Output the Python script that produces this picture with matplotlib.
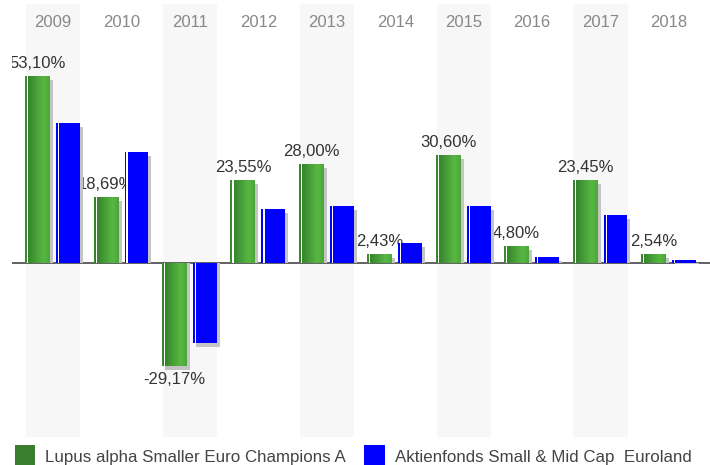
import matplotlib
matplotlib.use("Agg")
import matplotlib.pyplot as plt
import matplotlib.transforms as mtransforms
import numpy as np
from matplotlib.patches import Rectangle
from matplotlib.colors import to_rgb

plt.rcParams['font.family'] = ['Liberation Sans', 'DejaVu Sans']

years = ['2009', '2010', '2011', '2012', '2013', '2014', '2015', '2016', '2017', '2018']
fund = [53.10, 18.69, -29.17, 23.55, 28.00, 2.43, 30.60, 4.80, 23.45, 2.54]
peer = [39.8, 31.5, -22.6, 15.3, 16.2, 5.7, 16.2, 1.7, 13.6, 0.9]
fund_name = 'Lupus alpha Smaller Euro Champions A'
peer_name = 'Aktienfonds Small & Mid Cap  Euroland'

W, H = 710, 465
fig = plt.figure(figsize=(W / 100, H / 100), dpi=100)
ax = fig.add_axes([12 / W, (H - 437) / H, (710 - 12) / W, (437 - 4) / H])
ax.set_xlim(-0.6, len(years) - 0.4)
ax.axis('off')

px_x = 1 / 68.5      # one pixel in x data units
px_y = 1 / 3.52      # one pixel in y data units

# grey bands behind every other year
for i in range(0, len(years), 2):
    ax.axvspan(i - 0.395, i + 0.395, color='#f7f7f7', zorder=0, lw=0)

ax.axhline(0, color='#555555', lw=1.3, zorder=1)

# gradient for the green bars
dark = np.array(to_rgb('#2f7a27'))
light = np.array(to_rgb('#58b843'))
edge = np.array(to_rgb('#3a8a2e'))
t = np.linspace(0, 1, 40)
prof = np.where(t < 0.75, t / 0.75, 1 - (t - 0.75) / 0.25 * 0.3)
grad = dark[None, :] * (1 - prof[:, None]) + light[None, :] * prof[:, None]
grad = grad[None, :, :]

gw, bw = 0.365, 0.35
go, bo = -0.226, 0.219
shadow = '#c4c4c4'

up = mtransforms.offset_copy(ax.transData, fig=fig, x=0, y=8, units='dots')
down = mtransforms.offset_copy(ax.transData, fig=fig, x=0, y=-6, units='dots')

for i, (f, p) in enumerate(zip(fund, peer)):
    # green bar
    x0 = i + go - gw / 2
    ax.add_patch(Rectangle((x0 + 3 * px_x, 0), gw, f - 4 * px_y, color=shadow, lw=0, zorder=2))
    ax.imshow(grad, extent=[x0, x0 + gw, 0, f], aspect='auto', zorder=3, interpolation='bilinear')
    ax.add_patch(Rectangle((x0, 0), 1.5 * px_x, f, color=edge, lw=0, zorder=3.1))
    ax.add_patch(Rectangle((x0 + 2 * px_x, 0), 1.2 * px_x, f, color='white', lw=0, zorder=3.2))

    # value label
    label = f'{f:.2f}%'.replace('.', ',')
    if f >= 0:
        ax.text(i + go, f, label, transform=up, ha='center', va='baseline',
                fontsize=12, color='#333333', zorder=4, clip_on=True)
    else:
        ax.text(i + go, f, label, transform=down, ha='center', va='top',
                fontsize=12, color='#333333', zorder=4, clip_on=True)

    # blue bar
    x1 = i + bo - bw / 2
    ax.add_patch(Rectangle((x1 + 3 * px_x, 0), bw, p - 4 * px_y, color=shadow, lw=0, zorder=5))
    ax.add_patch(Rectangle((x1, 0), bw, p, color='#0000ff', lw=0, zorder=6))
    ax.add_patch(Rectangle((x1 + 2 * px_x, 0), 1.2 * px_x, p, color='white', lw=0, zorder=6.1))

ax.set_ylim(-49.43, 73.58)

for i, y in enumerate(years):
    ax.text(i, 0.948, y, transform=ax.get_xaxis_transform(), ha='center', va='baseline',
            fontsize=12, color='#888888')

# legend
fig.patches.append(Rectangle((14.5 / W, 0), 20.5 / W, 20 / H, transform=fig.transFigure,
                             color='#3b7d2f', lw=0))
fig.text(45 / W, 1 - 457 / H, fund_name, ha='left', va='center', fontsize=12.2, color='#444444')
fig.patches.append(Rectangle((364 / W, 0), 20.5 / W, 20 / H, transform=fig.transFigure,
                             color='#0000ff', lw=0))
fig.text(395 / W, 1 - 457 / H, peer_name, ha='left', va='center', fontsize=12.2, color='#444444')

fig.savefig('out.png', dpi=100)
